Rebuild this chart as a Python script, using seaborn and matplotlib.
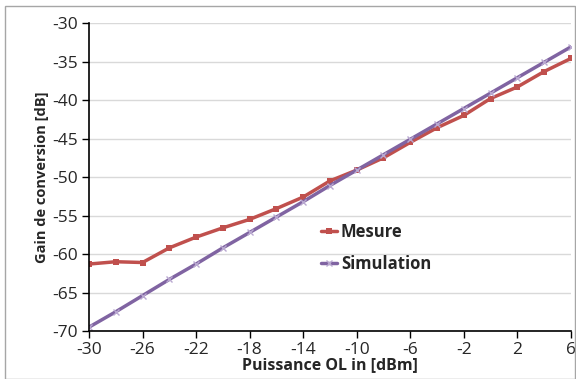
import numpy as np
import pandas as pd
import matplotlib
matplotlib.use("Agg")
import matplotlib.pyplot as plt
import seaborn as sns

puissance = [-30, -28, -26, -24, -22, -20, -18, -16, -14, -12, -10,
             -8, -6, -4, -2, 0, 2, 4, 6]
mesure = [-61.3, -61.0, -61.1, -59.2, -57.8, -56.6, -55.5, -54.1, -52.6, -50.5,
          -49.1, -47.5, -45.5, -43.6, -42.0, -39.8, -38.3, -36.3, -34.6]
simulation = [-69.5, -67.5, -65.4, -63.3, -61.3, -59.2, -57.2, -55.2, -53.2, -51.1,
              -49.1, -47.1, -45.1, -43.1, -41.1, -39.1, -37.1, -35.1, -33.1]

df = pd.DataFrame({"Puissance": puissance, "Mesure": mesure, "Simulation": simulation})

sns.set_style("white")
plt.rcParams['font.family'] = ['Open Sans', 'DejaVu Sans']
plt.rcParams['axes.unicode_minus'] = False

fig = plt.figure(figsize=(5.76, 3.79), dpi=100)
ax = fig.add_axes([0.1545, 0.1266, 0.8365, 0.8125])

# Mesure: carrés rouges, Simulation: croix violettes
sns.lineplot(data=df, x="Puissance", y="Mesure", color="#C0504D", marker="s",
             markersize=4, markeredgewidth=0, linewidth=2.5, label="Mesure", ax=ax)
sns.lineplot(data=df, x="Puissance", y="Simulation", color="#8064A2", marker="x",
             markersize=4, markeredgewidth=1, markeredgecolor="#B9A8D0",
             linewidth=2.5, label="Simulation", ax=ax)

ax.set_xlim(-30, 6)
ax.set_ylim(-70, -30)
ax.set_xticks(np.arange(-30, 7, 4))
ax.set_yticks(np.arange(-70, -29, 5))
ax.yaxis.grid(True, color="#D9D9D9", linewidth=1)
ax.set_axisbelow(True)
for s in ["top", "right"]:
    ax.spines[s].set_visible(False)
for s in ["left", "bottom"]:
    ax.spines[s].set_color("black")
    ax.spines[s].set_linewidth(1.2)
ax.tick_params(axis="both", direction="out", length=5, width=1, color="black",
               labelsize=12.5, pad=3, bottom=True, left=True)
ax.set_xlabel("Puissance OL in [dBm]", fontsize=11.5, fontweight="bold", labelpad=-1)
ax.set_ylabel("Gain de conversion [dB]", fontsize=10.5, fontweight="bold", labelpad=2)

ax.legend(loc="upper left", bbox_to_anchor=(0.45, 0.40),
          frameon=False, prop={"weight": "bold", "size": 12},
          handlelength=1.0, handletextpad=0.2, labelspacing=0.85)

fig.patches.append(plt.Rectangle((0.008, 0.0), 0.99, 0.985, transform=fig.transFigure,
                                 fill=False, edgecolor="#A6A6A6", linewidth=1))

fig.savefig("out.png", dpi=100)
